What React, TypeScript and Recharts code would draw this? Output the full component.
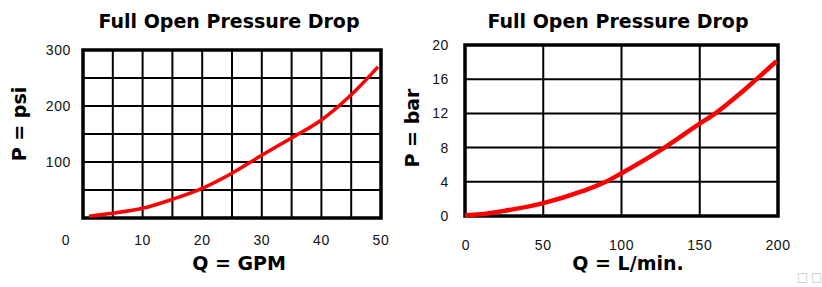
import React from 'react';
import { LineChart, Line, XAxis, YAxis, CartesianGrid, ReferenceArea } from 'recharts';

// ---- Left chart (US units) ----
const gpmFlow = [1, 5, 10, 15, 20, 25, 30, 35, 40, 45, 49.5];
const psiDrop = [3, 8.4, 17.3, 33.4, 53, 80, 112, 143, 175, 220, 270];
const gpmTicks = [0, 5, 10, 15, 20, 25, 30, 35, 40, 45, 50];
const gpmLabels = [0, 10, 20, 30, 40, 50];
const psiTicks = [0, 50, 100, 150, 200, 250, 300];
const psiLabels = [100, 200, 300];

// ---- Right chart (metric) ----
const lpmFlow = [0, 10, 25, 50, 75, 90, 100, 125, 150, 160, 175, 185, 199];
const barDrop = [0.1, 0.2, 0.6, 1.5, 2.9, 4.0, 5.0, 7.7, 10.8, 12.0, 14.2, 15.8, 18.1];
const lpmTicks = [0, 50, 100, 150, 200];
const barTicks = [0, 4, 8, 12, 16, 20];

const titleText = 'Full Open Pressure Drop';

const usData = gpmFlow.map((q, i) => ({ q, p: psiDrop[i] }));
const metricData = lpmFlow.map((q, i) => ({ q, p: barDrop[i] }));

const tickFont = { fontFamily: '"Liberation Sans", Arial, sans-serif', fontSize: 14, fill: '#111', letterSpacing: 0.6 };
const boldFont: React.CSSProperties = {
  fontFamily: '"DejaVu Sans", sans-serif',
  fontWeight: 'bold',
  fontSize: 19,
  letterSpacing: 0,
  color: '#000',
  position: 'absolute',
  whiteSpace: 'nowrap',
  lineHeight: '16px',
};

function makeXTick(labels: number[] | null, zeroShift: number) {
  return (props: any) => {
    const { x, y, payload } = props;
    const v = payload.value;
    if (labels && !labels.includes(v)) return <g />;
    return (
      <text x={x + (v === 0 ? zeroShift : 0)} y={y} dy="0.71em" textAnchor="middle" {...tickFont}>
        {v}
      </text>
    );
  };
}

function makeYTick(labels: number[] | null) {
  return (props: any) => {
    const { x, y, payload } = props;
    const v = payload.value;
    if (labels && !labels.includes(v)) return <g />;
    return (
      <text x={x} y={y} dy="0.36em" textAnchor="end" {...tickFont}>
        {v}
      </text>
    );
  };
}

const Title = ({ cx, cy, text, rotate }: { cx: number; cy: number; text: string; rotate?: boolean }) => (
  <div
    style={{
      ...boldFont,
      left: cx,
      top: cy,
      transform: `translate(-50%, -50%)${rotate ? ' rotate(-90deg)' : ''}`,
    }}
  >
    {text}
  </div>
);

const squareStyle: React.CSSProperties = {
  position: 'absolute',
  top: 270,
  fontFamily: '"DejaVu Sans", sans-serif',
  fontSize: 12,
  color: '#c8c8c8',
  lineHeight: '14px',
};

export default function App() {
  return (
    <div style={{ position: 'absolute', left: 0, top: 0, width: 822, height: 287, background: '#fff', overflow: 'hidden' }}>
      <div style={{ position: 'absolute', left: 0, top: 0 }}>
        <LineChart width={411} height={287} data={usData} margin={{ top: 50, right: 30, bottom: 0, left: 0 }}>
          <CartesianGrid stroke="#000" strokeWidth={2} horizontal vertical />
          <XAxis
            dataKey="q"
            type="number"
            domain={[0, 50]}
            ticks={gpmTicks}
            interval={0}
            axisLine={false}
            tickLine={false}
            tickSize={0}
            tickMargin={17}
            height={69}
            tick={makeXTick(gpmLabels, -17)}
          />
          <YAxis
            type="number"
            domain={[0, 300]}
            ticks={psiTicks}
            interval={0}
            axisLine={false}
            tickLine={false}
            tickSize={0}
            tickMargin={12}
            width={83}
            tick={makeYTick(psiLabels)}
          />
          <ReferenceArea x1={0} x2={50} y1={0} y2={300} fill="none" fillOpacity={0} stroke="#000" strokeWidth={3.5} strokeOpacity={1} ifOverflow="visible" />
          <Line type="monotone" dataKey="p" stroke="#ff0000" strokeWidth={3.5} dot={false} isAnimationActive={false} />
        </LineChart>
      </div>
      <div style={{ position: 'absolute', left: 411, top: 0 }}>
        <LineChart width={411} height={287} data={metricData} margin={{ top: 45, right: 44, bottom: 0, left: 0 }}>
          <CartesianGrid stroke="#000" strokeWidth={2} horizontal vertical />
          <XAxis
            dataKey="q"
            type="number"
            domain={[0, 200]}
            ticks={lpmTicks}
            interval={0}
            axisLine={false}
            tickLine={false}
            tickSize={0}
            tickMargin={24}
            height={71}
            tick={makeXTick(null, 1)}
          />
          <YAxis
            type="number"
            domain={[0, 20]}
            ticks={barTicks}
            interval={0}
            axisLine={false}
            tickLine={false}
            tickSize={0}
            tickMargin={16}
            width={54}
            tick={makeYTick(null)}
          />
          <ReferenceArea x1={0} x2={200} y1={0} y2={20} fill="none" fillOpacity={0} stroke="#000" strokeWidth={3.5} strokeOpacity={1} ifOverflow="visible" />
          <Line type="monotone" dataKey="p" stroke="#ff0000" strokeWidth={4.5} dot={false} isAnimationActive={false} />
        </LineChart>
      </div>
      <Title cx={229} cy={21} text={titleText} />
      <Title cx={618} cy={21} text={titleText} />
      <Title cx={239} cy={263} text="Q = GPM" />
      <Title cx={628} cy={263} text="Q = L/min." />
      <Title cx={18.5} cy={123.5} text="P = psi" rotate />
      <Title cx={412} cy={128} text="P = bar" rotate />
      <div style={{ ...squareStyle, left: 797 }}>□</div>
      <div style={{ ...squareStyle, left: 811 }}>□</div>
    </div>
  );
}
